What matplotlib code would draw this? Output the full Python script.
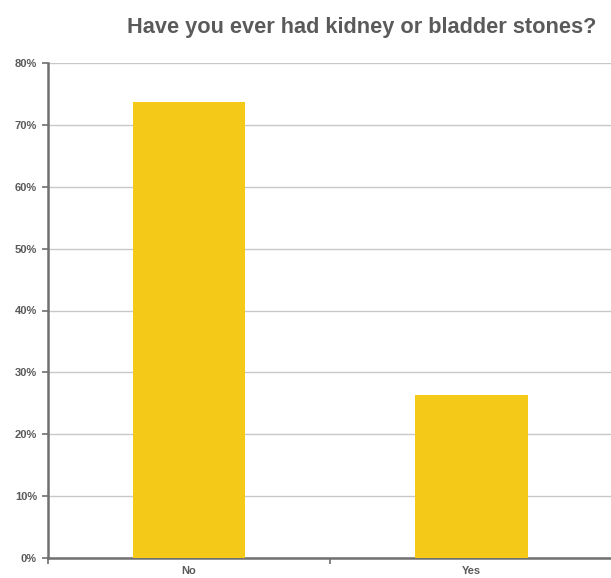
import matplotlib
matplotlib.use("Agg")
import matplotlib.pyplot as plt
from matplotlib.ticker import FuncFormatter, FixedLocator

categories = ["No", "Yes"]
percentages = [73.7, 26.3]
y_ticks = [0, 10, 20, 30, 40, 50, 60, 70, 80]
title = "Have you ever had kidney or bladder stones?"

plt.rcParams["font.family"] = ["Liberation Sans", "DejaVu Sans"]
text_color = "#5a5a5a"
bar_color = "#F5C918"

fig = plt.figure(figsize=(6.11, 5.78), dpi=100)
ax = fig.add_axes([48 / 611, 1 - 558 / 578, 1 - 48 / 611 + 0.002, (558 - 63) / 578])

x = list(range(len(categories)))
ax.bar(x, percentages, width=0.4, color=bar_color, zorder=3)

ax.set_xlim(-0.5, len(categories) - 0.5)
ax.set_ylim(0, 80)
ax.set_yticks(y_ticks)
ax.yaxis.set_major_formatter(FuncFormatter(lambda v, p: f"{v:.0f}%"))
ax.grid(axis="y", color="#c8c8c8", linewidth=1.0, zorder=0)

ax.set_xticks(x)
ax.set_xticklabels(categories)
ax.xaxis.set_minor_locator(FixedLocator([i - 0.5 for i in range(len(categories) + 1)]))
ax.tick_params(axis="x", which="major", length=0, pad=6, labelsize=8, labelcolor=text_color)
ax.tick_params(axis="x", which="minor", length=4, width=1.2, color="#707070", direction="out")
ax.tick_params(axis="y", length=4, width=1.2, color="#707070", direction="out",
               labelsize=8, labelcolor=text_color, pad=4)
for lbl in ax.get_xticklabels() + ax.get_yticklabels():
    lbl.set_fontweight("bold")

for side in ("top", "right"):
    ax.spines[side].set_visible(False)
for side in ("left", "bottom"):
    ax.spines[side].set_color("#707070")
    ax.spines[side].set_linewidth(1.8)

fig.text(362 / 611, 1 - 27 / 578, title, ha="center", va="center",
         fontsize=15.7, fontweight="bold", color=text_color)

fig.savefig("out.png", dpi=100)
